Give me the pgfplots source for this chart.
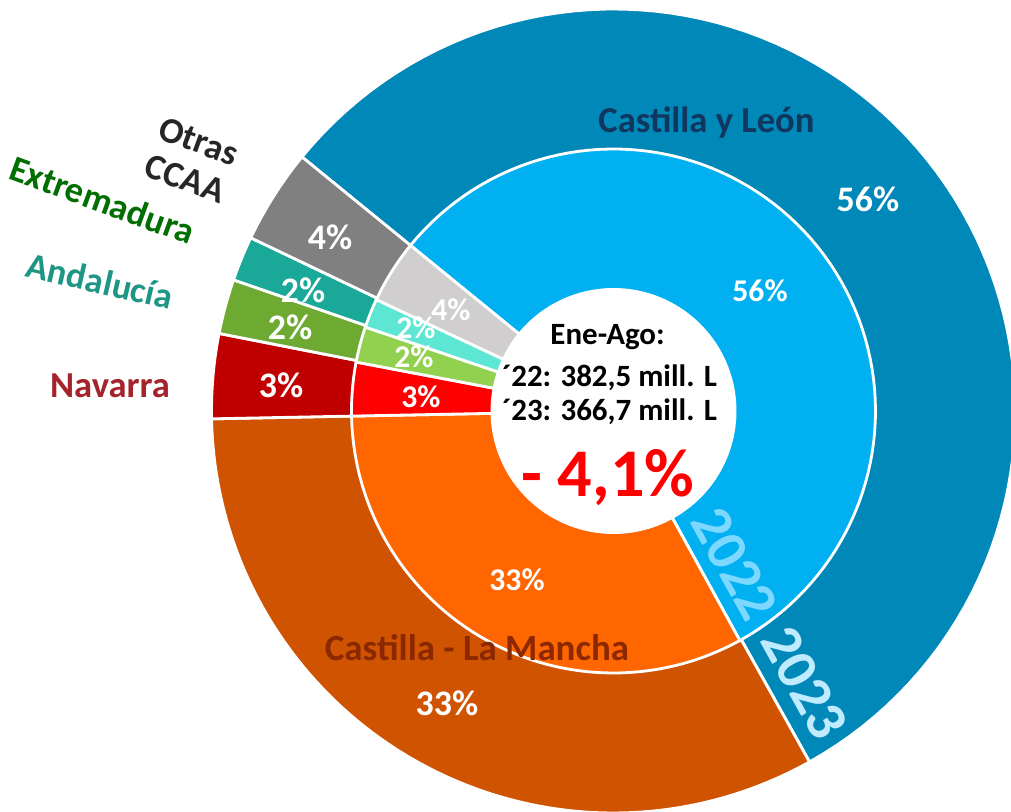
\documentclass[border=0pt]{standalone}
\usepackage{fontspec}
\setmainfont{Carlito}
\usepackage{xcolor}
\usepackage{pgfplots}
\usepackage{pgfplotstable}
\pgfplotsset{compat=1.18}

% outer ring (2023)
\definecolor{o0}{HTML}{0088B9}
\definecolor{o1}{HTML}{CF5300}
\definecolor{o2}{HTML}{C00000}
\definecolor{o3}{HTML}{6EAA32}
\definecolor{o4}{HTML}{1AA898}
\definecolor{o5}{HTML}{808080}
% inner ring (2022)
\definecolor{i0}{HTML}{00B0F0}
\definecolor{i1}{HTML}{FF6600}
\definecolor{i2}{HTML}{FF0000}
\definecolor{i3}{HTML}{92D050}
\definecolor{i4}{HTML}{5CE6D3}
\definecolor{i5}{HTML}{D0CECE}
\definecolor{TxCyL}{HTML}{12375E}
\definecolor{TxCLM}{HTML}{8C2800}
\definecolor{TxNav}{HTML}{A5232D}
\definecolor{TxExt}{HTML}{006E00}
\definecolor{TxAnd}{HTML}{1E9686}
\definecolor{TxOtr}{HTML}{262626}
\definecolor{Yr22}{HTML}{7DD8FF}
\definecolor{Yr23}{HTML}{BFEBFF}

% share of litres, %
\pgfplotstableread{
region share22 share23
CyL    56.1    56.0
CLM    32.7    32.8
Nav    3.3     3.4
Ext    2.2     2.2
And    1.8     1.8
Otr    3.9     3.8
}\shares
\pgfplotstablegetrowsof{\shares}
\pgfmathtruncatemacro\nrows{\pgfplotsretval-1}

% #1 column, #2 radius (px), #3 colour prefix
\newcommand\ring[3]{%
  \pgfmathsetmacro\cur{140.8}%
  \pgfplotsforeachungrouped \i in {0,...,\nrows}{%
    \pgfplotstablegetelem{\i}{#1}\of\shares
    \pgfmathsetmacro\nxt{\cur-3.6*\pgfplotsretval}%
    \edef\doplot{\noexpand\addplot[fill=#3\i, draw=white, line width=0.8pt,
      domain=\nxt:\cur, samples=90]
      ({#2*cos(x)},{#2*sin(x)}) -- (axis cs:0,0) -- cycle;}%
    \doplot
    \let\cur\nxt
  }%
}

\newcommand\fs[1]{\fontsize{#1}{#1}\selectfont\bfseries}

\begin{document}
\begin{tikzpicture}
\begin{axis}[
  x=0.01cm, y=0.01cm,
  xmin=-613.5, xmax=397.5, ymin=-401, ymax=411,
  hide axis, clip mode=individual,
]
\ring{share23}{402}{o}
\ring{share22}{262}{i}
\addplot[fill=white, draw=none, domain=0:360, samples=120]
  ({123*cos(x)},{123*sin(x)}) -- cycle;

% category labels
\node[TxCyL, font=\fs{10.4}] at (axis cs:93,288) {Castilla y León};
\node[TxCLM, font=\fs{10.5}] at (axis cs:-136.5,-237) {Castilla - La Mancha};
\node[TxNav, font=\fs{10.4}] at (axis cs:-503.5,25) {Navarra};
\node[TxAnd, font=\fs{10.3}, rotate=-13] at (axis cs:-513.5,130) {Andalucía};
\node[TxExt, font=\fs{10.3}, rotate=-20] at (axis cs:-511,211) {Extremadura};
\node[TxOtr, font=\fontsize{10.3}{11.4}\selectfont\bfseries, rotate=-20, align=center]
  at (axis cs:-421.5,251) {Otras\\CCAA};

% outer ring values (2023)
\node[white, font=\fs{10.2}] at (axis cs:254.5,212) {56\%};
\node[white, font=\fs{10.2}] at (axis cs:-166.5,-292) {33\%};
\node[white, font=\fs{10.2}] at (axis cs:-332.5,26) {3\%};
\node[white, font=\fs{10.2}] at (axis cs:-323.5,84) {2\%};
\node[white, font=\fs{10.2}] at (axis cs:-310.5,121) {2\%};
\node[white, font=\fs{10.2}] at (axis cs:-283.5,174) {4\%};
% inner ring values (2022)
\node[white, font=\fs{9}] at (axis cs:146.5,120) {56\%};
\node[white, font=\fs{9}] at (axis cs:-96.5,-169) {33\%};
\node[white, font=\fs{9}] at (axis cs:-192.5,14) {3\%};
\node[white, font=\fs{9}] at (axis cs:-199.5,54) {2\%};
\node[white, font=\fs{9}] at (axis cs:-197.5,83) {2\%};
\node[white, font=\fs{9}] at (axis cs:-162.5,101) {4\%};

% ring names
\node[Yr22, font=\fs{16.5}, rotate=-61, inner sep=0pt] at (axis cs:121,-153) {2022};
\node[Yr23, font=\fs{16.5}, rotate=-61, inner sep=0pt] at (axis cs:191,-272) {2023};

% centre
\node[black, font=\fs{8.8}] at (axis cs:-6,74) {Ene-Ago:};
\node[black, font=\fs{8.8}] at (axis cs:-4,33) {´22: 382,5 mill. L};
\node[black, font=\fs{8.8}] at (axis cs:-4,-1) {´23: 366,7 mill. L};
\node[red, font=\fs{19.4}] at (axis cs:-5.5,-67) {- 4,1\%};
\end{axis}
\pgfresetboundingbox
\path (current axis.south west) rectangle (current axis.north east);
\end{tikzpicture}
\end{document}
